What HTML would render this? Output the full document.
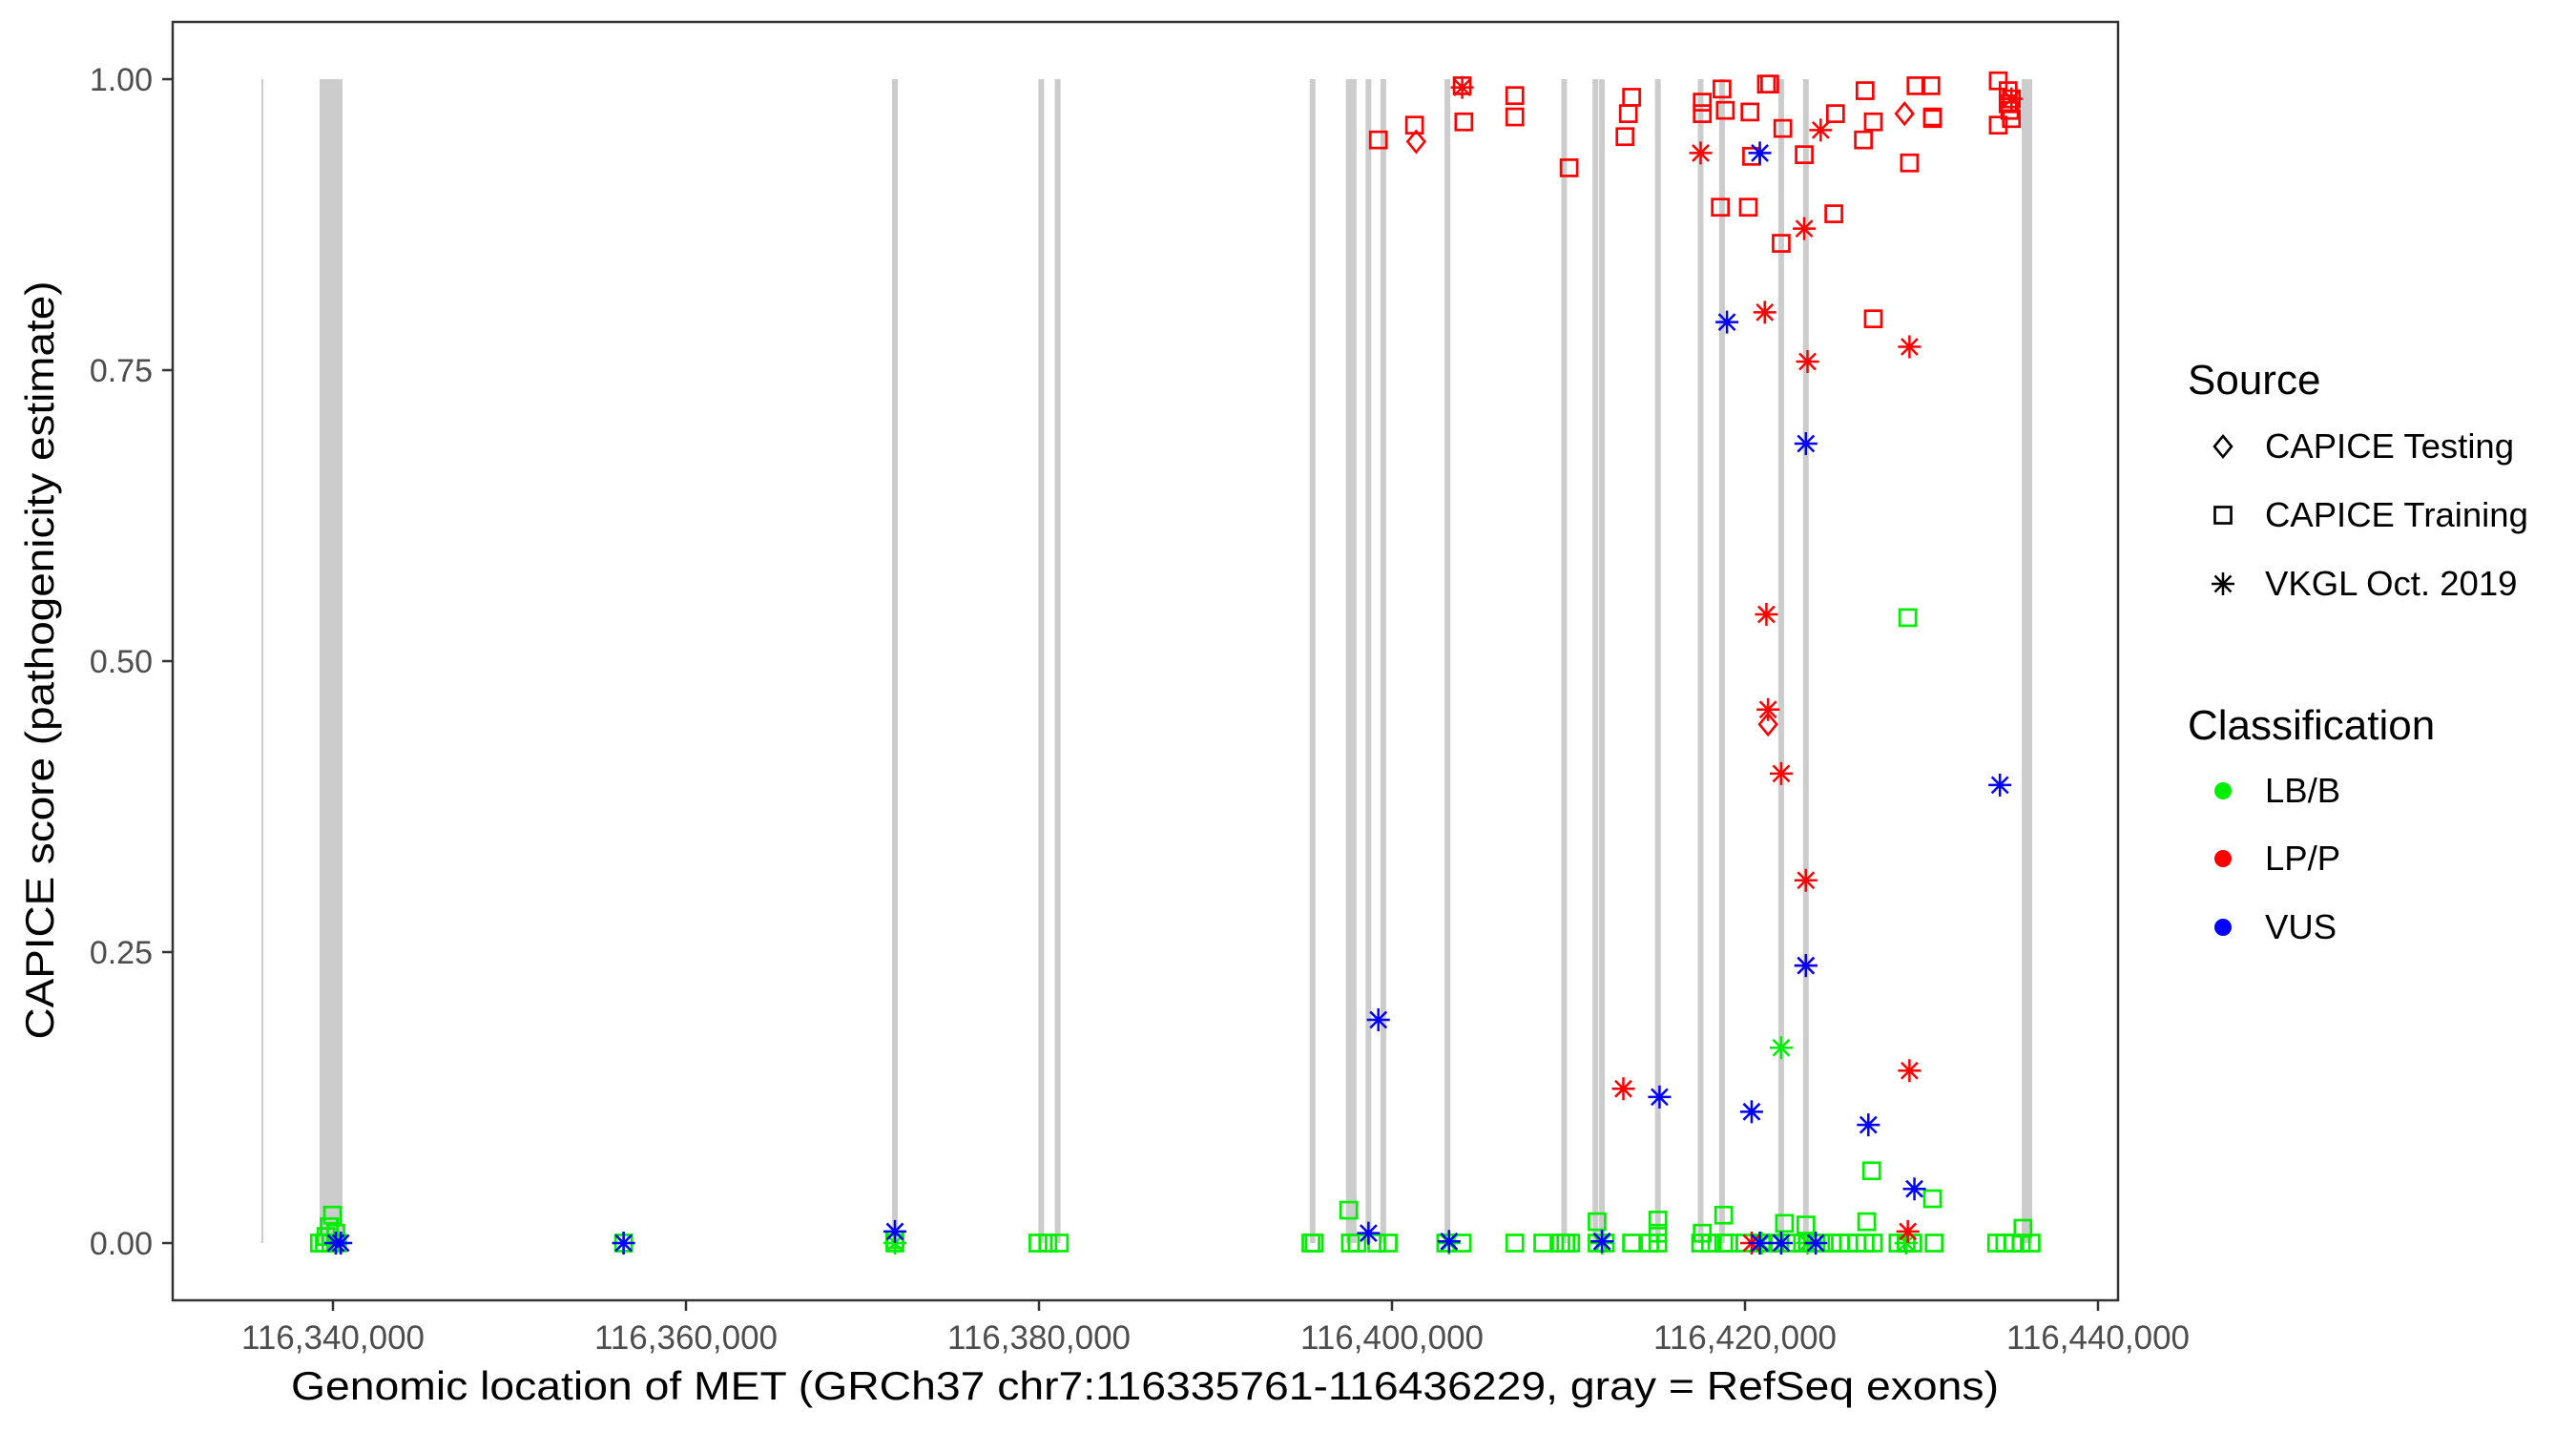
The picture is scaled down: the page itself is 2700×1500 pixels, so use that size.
<!DOCTYPE html>
<html><head><meta charset="utf-8"><style>
html,body{margin:0;padding:0;background:#fff;}
svg{display:block;}
text{font-family:"Liberation Sans",Arial,sans-serif;}
</style></head><body>
<svg id="s" xmlns="http://www.w3.org/2000/svg" width="2700" height="1500" viewBox="0 0 2700 1500">
<rect x="0" y="0" width="2700" height="1500" fill="#fff"/>
<g id="bars"></g>
<g id="pts"></g>
<rect x="181" y="23" width="2039" height="1340" fill="none" stroke="#333" stroke-width="2.5"/>
<g stroke="#333" stroke-width="2.5">
<line x1="170" y1="83" x2="181" y2="83"/><line x1="170" y1="388" x2="181" y2="388"/><line x1="170" y1="693" x2="181" y2="693"/><line x1="170" y1="998" x2="181" y2="998"/><line x1="170" y1="1303" x2="181" y2="1303"/>
<line x1="349" y1="1363" x2="349" y2="1374"/><line x1="719" y1="1363" x2="719" y2="1374"/><line x1="1089" y1="1363" x2="1089" y2="1374"/><line x1="1459" y1="1363" x2="1459" y2="1374"/><line x1="1829" y1="1363" x2="1829" y2="1374"/><line x1="2199" y1="1363" x2="2199" y2="1374"/>
</g>
<g fill="#4d4d4d" font-size="34" text-anchor="end">
<text x="160" y="95">1.00</text><text x="160" y="400">0.75</text><text x="160" y="705">0.50</text><text x="160" y="1010">0.25</text><text x="160" y="1315">0.00</text>
</g>
<g fill="#4d4d4d" font-size="35" text-anchor="middle">
<text x="349" y="1414">116,340,000</text><text x="719" y="1414">116,360,000</text><text x="1089" y="1414">116,380,000</text><text x="1459" y="1414">116,400,000</text><text x="1829" y="1414">116,420,000</text><text x="2199" y="1414">116,440,000</text>
</g>
<text x="1200" y="1467" font-size="42" text-anchor="middle" textLength="1790" lengthAdjust="spacingAndGlyphs" fill="#000">Genomic location of MET (GRCh37 chr7:116335761-116436229, gray = RefSeq exons)</text>
<text transform="translate(56,692) rotate(-90)" font-size="42" text-anchor="middle" textLength="795" lengthAdjust="spacingAndGlyphs" fill="#000">CAPICE score (pathogenicity estimate)</text>
<g fill="#000">
<text x="2293" y="413" font-size="44">Source</text>
<text x="2374" y="480" font-size="36.5">CAPICE Testing</text>
<text x="2374" y="552" font-size="36.5">CAPICE Training</text>
<text x="2374" y="624" font-size="36.5">VKGL Oct. 2019</text>
<text x="2293" y="775" font-size="44">Classification</text>
<text x="2374" y="841" font-size="36.5">LB/B</text>
<text x="2374" y="912" font-size="36.5">LP/P</text>
<text x="2374" y="984" font-size="36.5">VUS</text>
</g>
<g id="leg"></g>
</svg>
<script>
var NS="http://www.w3.org/2000/svg";
function X(t){return 352+(t-205)*1.7235;}
function Y(t){return 83+(t-48)*1.7207;}
function el(p,n,a){var e=document.createElementNS(NS,n);for(var k in a)e.setAttribute(k,a[k]);p.appendChild(e);return e;}
var bars=document.getElementById("bars");
el(bars,"rect",{x:274,y:83,width:2,height:1220,fill:"#cccccc"});
el(bars,"rect",{x:335,y:83,width:24,height:1220,fill:"#cccccc"});
[545,634,644,799,821,824,833,842,881,952,971,975,1009,1035,1048,1084,1099].forEach(function(t){
 el(bars,"rect",{x:X(t)-3,y:83,width:6,height:1220,fill:"#cccccc"});});
el(bars,"rect",{x:2119,y:83,width:11,height:1220,fill:"#cccccc"});
var pts=document.getElementById("pts");
var C={g:"#00ee00",r:"#ff0000",b:"#0000ff",k:"#000"};
function sq(p,x,y,c){el(p,"rect",{x:x-8.5,y:y-8.5,width:17,height:17,fill:"none",stroke:c,"stroke-width":2.7});}
function di(p,x,y,c){el(p,"polygon",{points:(x)+","+(y-11)+" "+(x+9)+","+y+" "+x+","+(y+11)+" "+(x-9)+","+y,fill:"none",stroke:c,"stroke-width":2.6});}
function as(p,x,y,c){var r=12;var d="M"+x+" "+(y-r)+"V"+(y+r)+"M"+(x-r)+" "+y+"H"+(x+r)+"M"+(x-8.5)+" "+(y-8.5)+"L"+(x+8.5)+" "+(y+8.5)+"M"+(x-8.5)+" "+(y+8.5)+"L"+(x+8.5)+" "+(y-8.5);el(p,"path",{d:d,stroke:c,"stroke-width":2.5,fill:"none"});}
var gsqB=[195,198,202,206,380,545,632,638,645,798,800,822,826,838,845,880,890,922,939,950,953,956,972,977,993,1004,1009,1035,1041,1049,1052,1062,1072,1077,1083,1090,1097,1103,1108,1115,1120,1125,1130,1135,1140,1155,1160,1164,1177,1215,1220,1225,1230,1236];
gsqB.forEach(function(t){sq(pts,X(t),Y(757),C.g);});
[[1161,376],[1139,713],[1176,730],[821,737],[1049,740],[972,744],[1009,743],[1086,745],[1099,746],[1136,744],[1231,748],[1036,751],[1009,751],[203,740],[201,747],[199,753],[205,751],[545,755]].forEach(function(p){sq(pts,X(p[0]),Y(p[1]),C.g);});
[[1072,757],[1100,757],[1160,757],[975,757],[882,757],[1084,638],[380,757],[205,757],[545,757]].forEach(function(p){as(pts,X(p[0]),Y(p[1]),C.g);});
[[839,85],[861,76],[890,52],[891,74],[922,58],[922,71],[955,102],[989,83],[991,69],[993,59],[1036,62],[1036,69],[1047,126],[1048,54],[1050,67],[1064,126],[1065,68],[1066,95],[1075,51],[1077,51],[1084,148],[1085,78],[1098,94],[1116,130],[1117,69],[1134,85],[1135,55],[1140,74],[1140,194],[1162,99],[1166,52],[1175,52],[1176,71],[1176,72],[1216,49],[1216,76],[1222,55],[1224,60],[1223,67],[1224,72],[1222,63]].forEach(function(p){sq(pts,X(p[0]),Y(p[1]),C.r);});
[[862,86],[1159,69],[1076,441]].forEach(function(p){di(pts,X(p[0]),Y(p[1]),C.r);});
[[890,53],[1035,93],[1074,190],[1098,139],[1100,220],[1108,79],[1075,374],[1076,432],[1084,471],[1099,536],[1099,588],[988,663],[1162,652],[1162,211],[1161,750],[1066,757],[1224,60]].forEach(function(p){as(pts,X(p[0]),Y(p[1]),C.r);});
[[1071,93],[1051,196],[1099,270],[1217,478],[1099,588],[839,621],[1010,668],[1066,677],[1137,685],[1165,724],[205,757],[208,757],[380,757],[545,750],[833,751],[882,756],[975,756],[1084,757],[1105,757],[1071,757]].forEach(function(p){as(pts,X(p[0]),Y(p[1]),C.b);});
var leg=document.getElementById("leg");
di(leg,2330,468,C.k);sq(leg,2330,540,C.k);as(leg,2330,612,C.k);
el(leg,"circle",{cx:2330,cy:829,r:9,fill:"#00ee00"});
el(leg,"circle",{cx:2330,cy:900,r:9,fill:"#ff0000"});
el(leg,"circle",{cx:2330,cy:972,r:9,fill:"#0000ff"});
</script>
</body></html>
